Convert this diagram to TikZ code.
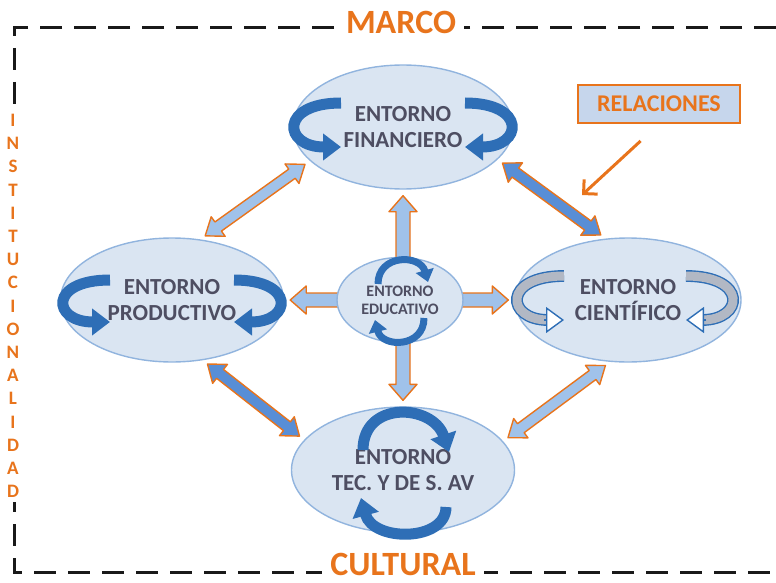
\documentclass[tikz,border=0pt]{standalone}
\usepackage{fontspec}
\setmainfont{Carlito}
\usetikzlibrary{shapes.geometric,calc,arrows.meta}

\definecolor{naranja}{RGB}{232,116,28}
\definecolor{fondo}{RGB}{218,229,242}
\definecolor{borde}{RGB}{145,180,222}
\definecolor{azulgiro}{RGB}{46,110,182}
\definecolor{azulclaro}{RGB}{160,194,234}
\definecolor{azulmedio}{RGB}{88,142,214}
\definecolor{grisgiro}{RGB}{178,184,196}
\definecolor{texto}{RGB}{78,78,98}
\definecolor{cajarel}{RGB}{198,214,236}

% doble flecha gruesa: [relleno]{desde}{hasta}{medio ancho del cuerpo}{medio ancho de la punta}
\newcommand{\relacion}[5][azulclaro]{%
  \coordinate (ra) at ($(#2)!3pt!(#3)$);
  \coordinate (rb) at ($(#3)!3pt!(#2)$);
  \coordinate (ha) at ($(ra)!8pt!(rb)$);
  \coordinate (hb) at ($(rb)!8pt!(ra)$);
  \filldraw[fill=#1, draw=naranja, line width=0.7pt, line join=round]
    (ra) -- ($(ha)!#5!90:(ra)$) -- ($(ha)!#4!90:(ra)$)
    -- ($(hb)!#4!-90:(rb)$) -- ($(hb)!#5!-90:(rb)$) -- (rb)
    -- ($(hb)!#5!90:(rb)$) -- ($(hb)!#4!90:(rb)$)
    -- ($(ha)!#4!-90:(ra)$) -- ($(ha)!#5!-90:(ra)$) -- cycle;
}

\begin{document}
\begin{tikzpicture}[x=0.5pt, y=-0.5pt,
  entorno/.style={ellipse, draw=borde, line width=0.7pt, fill=fondo, text=texto, align=center, inner sep=0pt, font=\bfseries\fontsize{11.5}{13}\selectfont},
  giro/.style={draw=azulgiro, line width=5.5pt, -{Triangle[length=9pt,width=13pt]}},
  girochico/.style={draw=azulgiro, line width=3.5pt, -{Triangle[length=6pt,width=9pt]}},
  giroclaro/.style={draw=azulgiro, line width=0.7pt, double=grisgiro, double distance=4.5pt, shorten >=8pt},
  puntaclara/.style={draw=azulgiro, line width=0.7pt, -{Triangle[length=9pt,width=13pt,fill=white]}},
  titulo/.style={text=naranja, font=\bfseries\fontsize{17}{20}\selectfont, fill=white, inner xsep=4pt, inner ysep=1pt},
  marco/.style={line width=1.5pt, dash pattern=on 11pt off 6pt, draw=black!90}
]
	\useasboundingbox (0,0) rectangle (776,583);

	% marco institucional
	\draw[marco] (776,28) -- (14,28) -- (14,572) -- (776,572);
	\node[titulo] (tmarco) at (401,22) {MARCO};
	\node[titulo] (tcultural) at (403,564) {CULTURAL};
	\node[fill=white, text=naranja, align=center, inner sep=2pt, font=\bfseries\fontsize{9.5}{11.6}\selectfont] (inst) at (13,306) {I\\N\\S\\T\\I\\T\\U\\C\\I\\O\\N\\A\\L\\I\\D\\A\\D};

	% entornos
	\node[entorno, minimum width=110pt, minimum height=62pt] (fin) at (403,127) {ENTORNO\\FINANCIERO};
	\node[entorno, minimum width=111.5pt, minimum height=62pt] (prod) at (172,300) {ENTORNO\\PRODUCTIVO};
	\node[entorno, minimum width=113pt, minimum height=62pt] (cien) at (628,300) {ENTORNO\\CIENTÍFICO};
	\node[entorno, minimum width=111.5pt, minimum height=63pt] (tec) at (403,470) {ENTORNO\\TEC. Y DE S. AV};

	% relaciones
	\relacion{fin.200}{prod.65}{2.8pt}{6pt}
	\relacion[azulmedio]{fin.-19}{cien.110}{2.8pt}{6pt}
	\relacion[azulmedio]{prod.-63}{tec.163}{2.8pt}{6pt}
	\relacion{tec.16}{cien.-106}{2.8pt}{6pt}
	\relacion{fin.south}{tec.north}{3.5pt}{7pt}
	\relacion{prod.east}{cien.west}{3.5pt}{7pt}

	\node[entorno, minimum width=63pt, minimum height=42.5pt, font=\bfseries\fontsize{8}{9}\selectfont] (edu) at (400,300) {ENTORNO\\EDUCATIVO};

	% giros
	\draw[giro] ($(fin)+(-62,-24)$) .. controls ($(fin)+(-124,-24)$) and ($(fin)+(-120,20)$) .. ($(fin)+(-62,20)$);
	\draw[giro] ($(fin)+(62,-24)$) .. controls ($(fin)+(124,-24)$) and ($(fin)+(120,20)$) .. ($(fin)+(62,20)$);
	\draw[giro] ($(prod)+(-62,-20)$) .. controls ($(prod)+(-124,-20)$) and ($(prod)+(-120,22)$) .. ($(prod)+(-62,22)$);
	\draw[giro] ($(prod)+(62,-20)$) .. controls ($(prod)+(124,-20)$) and ($(prod)+(120,22)$) .. ($(prod)+(62,22)$);

	\draw[giroclaro] ($(cien)+(-64,-24)$) .. controls ($(cien)+(-126,-24)$) and ($(cien)+(-122,20)$) .. ($(cien)+(-64,20)$);
	\draw[puntaclara] ($(cien)+(-84,20)$) -- ($(cien)+(-64,20)$);
	\draw[giroclaro] ($(cien)+(58,-24)$) .. controls ($(cien)+(120,-24)$) and ($(cien)+(116,20)$) .. ($(cien)+(58,20)$);
	\draw[puntaclara] ($(cien)+(78,20)$) -- ($(cien)+(58,20)$);

	\draw[giro] ($(tec)+(-40,-20)$) .. controls ($(tec)+(-40,-70)$) and ($(tec)+(30,-66)$) .. ($(tec)+(46,-18)$);
	\draw[giro] ($(tec)+(43,37)$) .. controls ($(tec)+(43,72)$) and ($(tec)+(-30,72)$) .. ($(tec)+(-42,28)$);

	\draw[girochico] ($(edu)+(-22,-16)$) .. controls ($(edu)+(-22,-46)$) and ($(edu)+(20,-46)$) .. ($(edu)+(28,-18)$);
	\draw[girochico] ($(edu)+(24,18)$) .. controls ($(edu)+(24,48)$) and ($(edu)+(-18,48)$) .. ($(edu)+(-25,20)$);

	% etiqueta
	\node[draw=naranja, line width=1pt, fill=cajarel, text=naranja, font=\bfseries\fontsize{12}{14}\selectfont, minimum width=81pt, minimum height=19pt] (rel) at (659,104) {RELACIONES};
	\coordinate (apunta) at (582,195);
	\draw[naranja, line width=1.5pt, shorten <=12.5pt, -{Straight Barb[length=5pt,width=10pt]}] (rel.south) -- (apunta);
\end{tikzpicture}
\end{document}
